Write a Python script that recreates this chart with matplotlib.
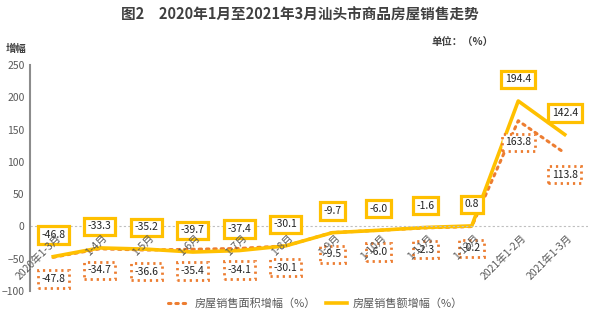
import matplotlib
matplotlib.use("Agg")
import matplotlib.pyplot as plt
import numpy as np

plt.rcParams['font.family'] = ['Noto Sans CJK SC', 'DejaVu Sans']

months = ['2020年1-3月', '1-4月', '1-5月', '1-6月', '1-7月', '1-8月', '1-9月',
          '1-10月', '1-11月', '1-12月', '2021年1-2月', '2021年1-3月']
area_growth = [-47.8, -34.7, -36.6, -35.4, -34.1, -30.1, -9.5, -6.0, -2.3, -0.2, 163.8, 113.8]
sales_growth = [-46.8, -33.3, -35.2, -39.7, -37.4, -30.1, -9.7, -6.0, -1.6, 0.8, 194.4, 142.4]
yticks = [-100, -50, 0, 50, 100, 150, 200, 250]

gold = '#FFC000'
orange = '#ED7D31'

fig = plt.figure(figsize=(6, 3.24), dpi=100)
ax = fig.add_axes([0.05, 0.102, 0.93, 0.697])
x = np.arange(len(months))

ax.plot(x, area_growth, color=orange, lw=2.2, linestyle=(0, (0.8, 1.6)),
        dash_capstyle='round', label='房屋销售面积增幅（%）')
ax.plot(x, sales_growth, color=gold, lw=2.6, label='房屋销售额增幅（%）')

for xi, v in zip(x, sales_growth):
    ax.annotate(f'{v:.1f}', (xi, v), xytext=(0, 12), textcoords='offset points',
                ha='center', va='bottom', fontsize=7.5, color='#222222',
                bbox=dict(boxstyle='square,pad=0.35', fc='white', ec=gold, lw=2.3))
for xi, v in zip(x, area_growth):
    ax.annotate(f'{v:.1f}', (xi, v), xytext=(0, -12), textcoords='offset points',
                ha='center', va='top', fontsize=7.5, color='#222222',
                bbox=dict(boxstyle='square,pad=0.35', fc='white', ec=orange, lw=2.0,
                          linestyle=(0, (0.8, 1.4))))

ax.set_xlim(-0.5, len(months) - 0.5)
ax.set_ylim(-100, 250)
ax.set_yticks(yticks)
ax.tick_params(axis='y', length=0, labelsize=7.5, colors='#595959', pad=4)
ax.set_xticks([])
for xi, m in zip(x, months):
    ax.text(xi + 0.05, -9, m, rotation=45, ha='right', va='top', fontsize=7.5,
            color='#595959', rotation_mode='anchor')

ax.axhline(0, color='#BFBFBF', lw=0.8, linestyle=(0, (2, 2)))
for s in ['top', 'right', 'bottom']:
    ax.spines[s].set_visible(False)
ax.spines['left'].set_color('#8C8C8C')
ax.spines['left'].set_linewidth(1.5)

fig.text(0.5, 0.955, '图2　2020年1月至2021年3月汕头市商品房屋销售走势', ha='center', va='center',
         fontsize=10.5, fontweight='bold', color='#404040')
fig.text(0.01, 0.85, '增幅', ha='left', va='center', fontsize=7.5, fontweight='bold', color='#404040')
fig.text(0.72, 0.868, '单位：（%）', ha='left', va='center', fontsize=7.5, fontweight='bold', color='#404040')

fig.legend(loc='center', bbox_to_anchor=(0.525, 0.065), ncol=2, frameon=False, fontsize=8,
           handlelength=1.9, handletextpad=0.5, columnspacing=0.9, labelcolor='#595959')

fig.savefig('out.png', dpi=100)
